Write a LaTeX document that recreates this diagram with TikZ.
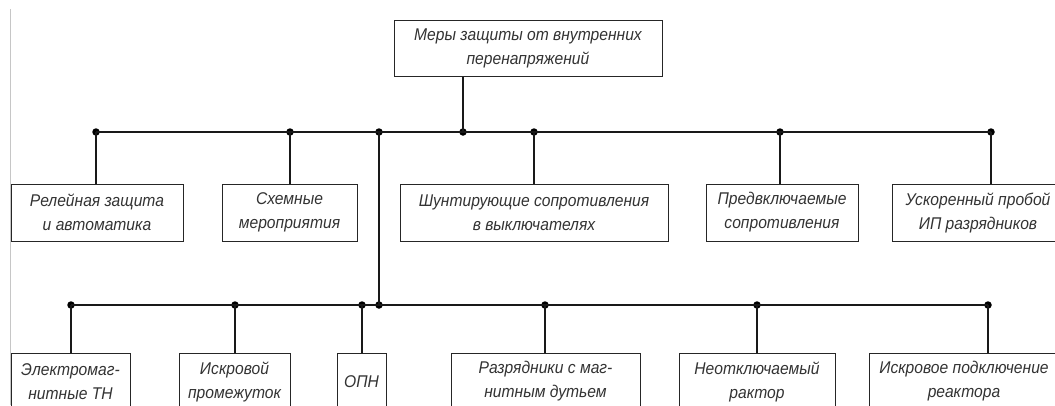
\documentclass[tikz,border=0pt]{standalone}
\usepackage{fontspec}
\setmainfont{Liberation Sans}[FakeStretch=0.92]
\begin{document}
\begin{tikzpicture}[x=1pt,y=-1pt,
  box/.style={draw=black!85, line width=1pt, inner sep=0pt, align=center,
    font=\itshape\fontsize{17}{24}\selectfont, text=black!80},
  wire/.style={line width=1.1pt, draw=black!90},
  jdot/.style={circle, fill=black, inner sep=0pt, minimum size=7.5pt}]
\clip (0,0) rectangle (1055,405);
\fill[white] (0,0) rectangle (1055,405);
% page margin line
\draw[gray!45, line width=1pt] (10,9) -- (10,405);
% top node
\node[box, minimum width=268pt, minimum height=56pt] (top) at (528,48) {Меры защиты от внутренних\\перенапряжений};
% row 1
\node[box, minimum width=172pt, minimum height=57pt] (a1) at (97,212.5) {Релейная защита\\и автоматика};
\node[box, minimum width=135pt, minimum height=57pt] (a2) at (289.5,212.5) {Схемные\\мероприятия};
\node[box, minimum width=268pt, minimum height=57pt] (a3) at (534,212.5) {Шунтирующие сопротивления\\в выключателях};
\node[box, minimum width=152pt, minimum height=57pt] (a4) at (782,212.5) {Предвключаемые\\сопротивления};
\node[box, minimum width=172pt, minimum height=57pt] (a5) at (978,212.5) {Ускоренный пробой\\ИП разрядников};
% row 2
\node[box, minimum width=119pt, minimum height=57pt] (b1) at (70.5,381.5) {Электромаг-\\нитные ТН};
\node[box, minimum width=111pt, minimum height=57pt] (b2) at (234.5,381.5) {Искровой\\промежуток};
\node[box, minimum width=49pt, minimum height=57pt] (b3) at (361.5,381.5) {ОПН};
\node[box, minimum width=189pt, minimum height=57pt] (b4) at (545.5,381.5) {Разрядники с маг-\\нитным дутьем};
\node[box, minimum width=156pt, minimum height=57pt] (b5) at (757,381.5) {Неотключаемый\\рактор};
\node[box, minimum width=190pt, minimum height=57pt] (b6) at (964,381.5) {Искровое подключение\\реактора};
% junctions, bus 1
\node[jdot] (p1) at (96,132) {};
\node[jdot] (p2) at (290,132) {};
\node[jdot] (p3) at (379,132) {};
\node[jdot] (p4) at (463,132) {};
\node[jdot] (p5) at (534,132) {};
\node[jdot] (p6) at (780,132) {};
\node[jdot] (p7) at (991,132) {};
% junctions, bus 2
\node[jdot] (q1) at (71,305) {};
\node[jdot] (q2) at (235,305) {};
\node[jdot] (q3) at (362,305) {};
\node[jdot] (q4) at (379,305) {};
\node[jdot] (q5) at (545,305) {};
\node[jdot] (q6) at (757,305) {};
\node[jdot] (q7) at (988,305) {};
% buses
\draw[wire] (p1.center) -- (p7.center);
\draw[wire] (q1.center) -- (q7.center);
\draw[wire] (top.south -| p4) -- (p4.center);
\draw[wire] (p3.center) -- (q4.center);
% drops row 1
\draw[wire] (p1.center) -- (p1.center |- a1.north);
\draw[wire] (p2.center) -- (p2.center |- a2.north);
\draw[wire] (p5.center) -- (p5.center |- a3.north);
\draw[wire] (p6.center) -- (p6.center |- a4.north);
\draw[wire] (p7.center) -- (p7.center |- a5.north);
% drops row 2
\draw[wire] (q1.center) -- (q1.center |- b1.north);
\draw[wire] (q2.center) -- (q2.center |- b2.north);
\draw[wire] (q3.center) -- (q3.center |- b3.north);
\draw[wire] (q5.center) -- (q5.center |- b4.north);
\draw[wire] (q6.center) -- (q6.center |- b5.north);
\draw[wire] (q7.center) -- (q7.center |- b6.north);
\end{tikzpicture}
\end{document}
